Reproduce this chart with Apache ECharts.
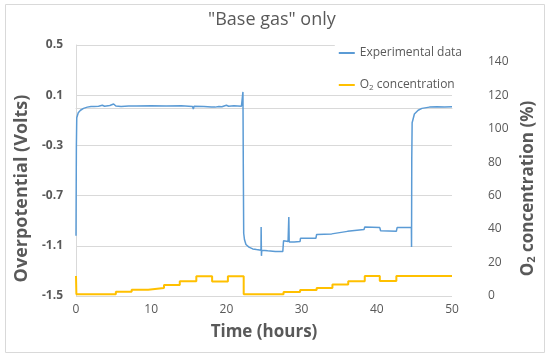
<!DOCTYPE html>
<html>
<head>
<meta charset="utf-8">
<script src="https://cdn.jsdelivr.net/npm/echarts@6/dist/echarts.min.js"></script>
<style>html,body{margin:0;padding:0;background:#fff}#c{width:550px;height:358px}</style>
</head>
<body>
<div id="c"></div>
<script>
// Experimental data (time in hours, overpotential in volts)
const expTime = [0, 0.05, 0.1, 0.3, 0.6, 1.0, 1.5, 2.0, 2.2, 2.4, 3.0, 3.5, 3.8, 4.5, 5.0, 5.3, 6.0, 7.0, 8.0, 10.0, 12.0, 14.0, 15.5, 15.6, 15.7, 17.0, 18.0, 18.5, 19.0, 19.2, 19.4, 20.0, 20.3, 21.0, 22.0, 22.2, 22.25, 22.3, 22.4, 22.6, 23.0, 23.5, 24.0, 24.6, 24.62, 24.66, 24.7, 25.5, 26.5, 27.5, 27.6, 28.2, 28.3, 28.35, 29.0, 29.8, 29.85, 31.9, 32.0, 34.0, 34.1, 36.1, 36.2, 38.3, 38.4, 40.4, 40.5, 42.6, 42.7, 44.6, 44.62, 44.65, 44.7, 45.0, 45.5, 46.0, 47.0, 48.0, 49.0, 50.0];
const expValue = [-1.02, -0.3, -0.08, -0.04, -0.02, -0.005, 0.005, 0.01, 0.025, 0.01, 0.012, 0.02, 0.012, 0.018, 0.03, 0.014, 0.01, 0.013, 0.014, 0.015, 0.014, 0.015, 0.01, -0.01, 0.012, 0.01, 0.006, 0.005, 0.01, 0.025, 0.008, 0.02, 0.012, 0.015, 0.012, 0.126, -0.5, -1.0, -1.05, -1.09, -1.11, -1.125, -1.13, -1.135, -0.95, -1.18, -1.135, -1.14, -1.145, -1.145, -1.06, -1.065, -0.87, -1.07, -1.07, -1.065, -1.04, -1.04, -1.01, -1.005, -0.99, -0.985, -0.97, -0.97, -0.95, -0.955, -0.98, -0.985, -0.955, -0.955, -1.11, -0.4, -0.12, -0.05, -0.02, -0.005, 0.005, 0.008, 0.006, 0.008];
// O2 concentration (%), step-wise
const o2Time = [0, 0.05, 5.3, 7.4, 9.6, 11.7, 13.8, 16.0, 18.1, 20.2, 22.3, 27.6, 29.8, 32.0, 34.1, 36.2, 38.4, 40.4, 42.6, 50];
const o2Value = [12, 1, 2.6, 3.8, 4.8, 6.6, 8.8, 11.8, 8.6, 11.8, 1, 2.4, 3.6, 4.8, 6.8, 8.8, 12, 9, 12, 12];
const xTicks = [0, 10, 20, 30, 40, 50];
const leftTicks = [-1.5, -1.1, -0.7, -0.3, 0.1, 0.5];
const rightTicks = [0, 20, 40, 60, 80, 100, 120, 140];

const expData = expTime.map((t, i) => [t, expValue[i]]);
const o2Data = o2Time.map((t, i) => [t, o2Value[i]]);

const chart = echarts.init(document.getElementById('c'), null, {renderer: 'canvas'});
const FONT = 'Open Sans';
const GREY = '#595959';
chart.setOption({
  animation: false,
  graphic: [{type: 'rect', shape: {x: 5.5, y: 4.5, width: 539, height: 348}, style: {fill: 'none', stroke: '#D9D9D9', lineWidth: 1}}],
  title: {text: '"Base gas" only', left: 203, top: 6, textStyle: {fontFamily: FONT, fontSize: 18, fontWeight: 'normal', color: GREY}},
  legend: {
    right: 84, top: 44, orient: 'vertical', itemGap: 20, itemWidth: 16, itemHeight: 2,
    backgroundColor: '#fff', borderWidth: 0, padding: [3, 4],
    data: [{name: 'Experimental data', icon: 'rect'}, {name: 'O2 concentration', icon: 'rect'}],
    formatter: n => n === 'O2 concentration' ? 'O{s|2} concentration' : n,
    textStyle: {fontFamily: FONT, fontSize: 12, color: GREY, rich: {s: {fontSize: 8, verticalAlign: 'bottom', padding: [6, 0, 0, 0], fontFamily: FONT, color: GREY}}}
  },
  grid: {left: 76, right: 98, top: 45, bottom: 62},
  xAxis: {
    type: 'value', min: 0, max: 50, interval: 10,
    name: 'Time (hours)', nameLocation: 'middle', nameGap: 28,
    nameTextStyle: {fontFamily: FONT, fontSize: 17, fontWeight: 'bold', color: GREY},
    axisLine: {lineStyle: {color: '#D9D9D9'}}, axisTick: {show: false},
    axisLabel: {fontFamily: FONT, fontSize: 12, color: GREY, margin: 8, customValues: xTicks},
    splitLine: {show: false}
  },
  yAxis: [{
    type: 'value', min: -1.5, max: 0.5, interval: 0.4,
    name: 'Overpotential (Volts)', nameLocation: 'middle', nameGap: 44, nameRotate: 90,
    nameTextStyle: {fontFamily: FONT, fontSize: 18, fontWeight: 'bold', color: GREY, padding: [0, 36, 0, 0]},
    axisLine: {show: true, lineStyle: {color: '#D9D9D9'}}, axisTick: {show: false},
    axisLabel: {fontFamily: FONT, fontSize: 12, fontWeight: 'bold', color: GREY, margin: 13, customValues: leftTicks, formatter: v => v.toFixed(1)},
    splitLine: {lineStyle: {color: '#D9D9D9'}}
  }, {
    type: 'value', min: 0, max: 150, interval: 20, position: 'right',
    name: 'O{s|2} concentration (%)', nameLocation: 'middle', nameGap: 66, nameRotate: 90,
    nameTextStyle: {fontFamily: FONT, fontSize: 17, fontWeight: 'bold', color: GREY, padding: [0, 36, 0, 0], rich: {s: {fontFamily: FONT, fontSize: 11, fontWeight: 'bold', color: GREY, padding: [8, 0, 0, 0]}}},
    axisLine: {show: false}, axisTick: {show: false},
    axisLabel: {fontFamily: FONT, fontSize: 12, color: GREY, margin: 36, customValues: rightTicks},
    splitLine: {show: false}
  }],
  series: [{
    name: 'Experimental data', type: 'line', yAxisIndex: 0, data: expData, showSymbol: false,
    lineStyle: {color: '#5B9BD5', width: 1.5}, itemStyle: {color: '#5B9BD5'}
  }, {
    name: 'O2 concentration', type: 'line', yAxisIndex: 1, data: o2Data, showSymbol: false, step: 'end',
    lineStyle: {color: '#FFC000', width: 2}, itemStyle: {color: '#FFC000'}
  }]
});
</script>
</body>
</html>
